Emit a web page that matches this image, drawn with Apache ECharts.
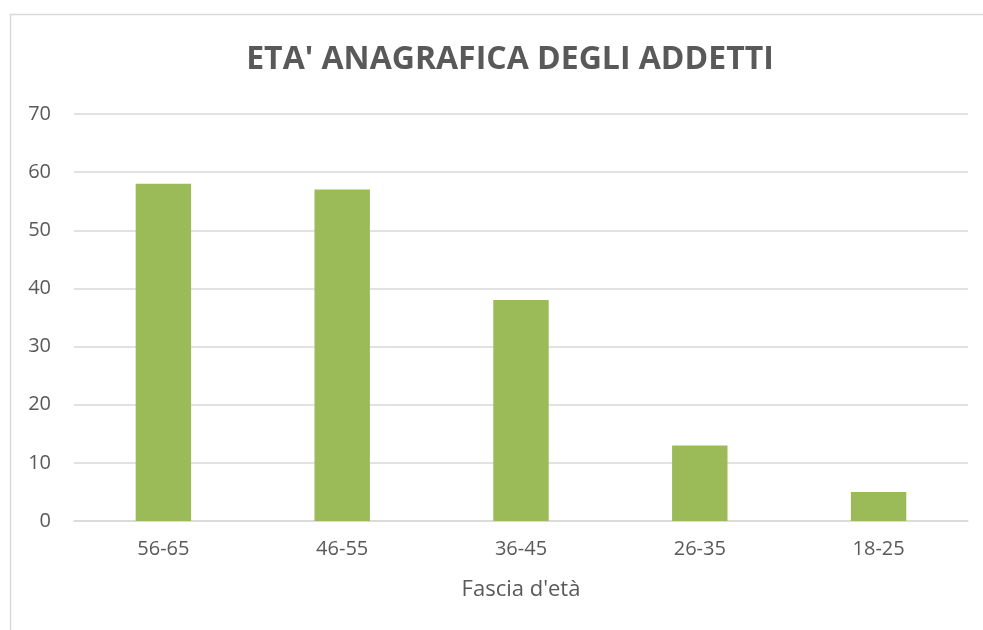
<!DOCTYPE html>
<html>
<head>
<meta charset="utf-8">
<script src="https://cdn.jsdelivr.net/npm/echarts@6/dist/echarts.min.js"></script>
<style>
  html, body { margin: 0; padding: 0; background: #fff; }
  #chart { width: 983px; height: 630px; }
</style>
</head>
<body>
<div id="chart"></div>
<script>
// dati
const categories = ['56-65', '46-55', '36-45', '26-35', '18-25'];
const addetti = [58, 57, 38, 13, 5];
const yTicks = { min: 0, max: 70, interval: 10 };

const chart = echarts.init(document.getElementById('chart'));
const options = {
    backgroundColor: '#fff',
    textStyle: { fontFamily: 'Open Sans' },
    title: {
        text: "ETA' ANAGRAFICA DEGLI ADDETTI",
        left: 505,
        top: 39,
        textAlign: 'center',
        textStyle: { color: '#595959', fontSize: 32, fontWeight: 'bold', fontFamily: 'Open Sans' }
    },
    graphic: [
        {
            type: 'rect',
            shape: { x: 10.5, y: 14.5, width: 1000, height: 700 },
            style: { fill: 'none', stroke: '#d9d9d9', lineWidth: 1.5 },
            silent: true
        }
    ],
    grid: { left: 74, right: 15, top: 114, bottom: 109, containLabel: false },
    xAxis: {
        type: 'category',
        data: categories,
        name: "Fascia d'età",
        nameLocation: 'middle',
        nameGap: 58,
        nameTextStyle: { color: '#595959', fontSize: 22 },
        axisLine: { show: true, lineStyle: { color: '#d9d9d9', width: 1.5 } },
        axisTick: { show: false },
        axisLabel: { color: '#595959', fontSize: 20, margin: 18 }
    },
    yAxis: {
        type: 'value',
        min: yTicks.min,
        max: yTicks.max,
        interval: yTicks.interval,
        axisLine: { show: false },
        axisTick: { show: false },
        axisLabel: { color: '#595959', fontSize: 20, margin: 23 },
        splitLine: { lineStyle: { color: '#d9d9d9', width: 1.5 } }
    },
    series: [
        {
            type: 'bar',
            data: addetti,
            barWidth: '31%',
            itemStyle: { color: '#9bbb59' }
        }
    ]
};
chart.setOption(options);
</script>
</body>
</html>
